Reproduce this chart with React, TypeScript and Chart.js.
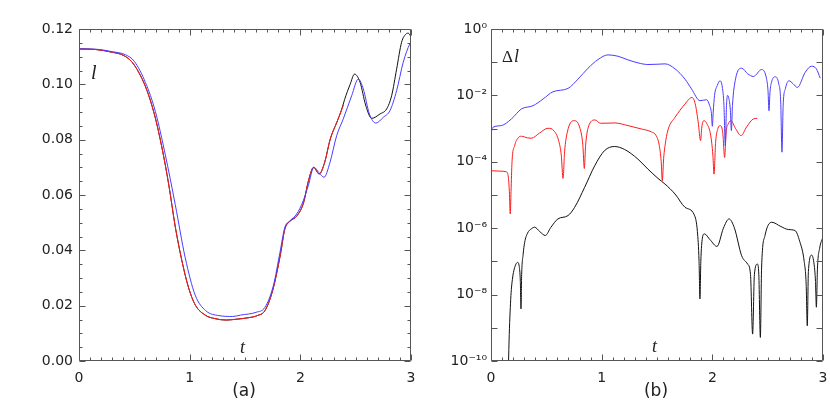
import { useEffect, useRef } from "react";
import { Chart, registerables } from "chart.js";

Chart.register(...registerables);

// ---------- Panel (a): l(t) ----------
const blackT_a = [0, 0.15, 0.3, 0.4, 0.48, 0.57, 0.63, 0.69, 0.75, 0.81, 0.87, 0.93, 0.99, 1.05, 1.14, 1.23, 1.33, 1.42, 1.54, 1.61, 1.68, 1.75, 1.82, 1.86, 1.9, 1.97, 2.03, 2.07, 2.12, 2.17, 2.22, 2.27, 2.33, 2.37, 2.4, 2.45, 2.49, 2.54, 2.59, 2.645, 2.72, 2.78, 2.825, 2.87, 2.915, 2.955, 2.975, 3.0];
const blackL_a = [0.1128, 0.1126, 0.1116, 0.1105, 0.108, 0.102, 0.096, 0.0878, 0.077, 0.064, 0.0485, 0.0362, 0.0265, 0.0203, 0.0166, 0.0153, 0.0148, 0.0151, 0.0157, 0.0164, 0.0182, 0.0255, 0.0385, 0.0477, 0.0503, 0.0525, 0.0573, 0.0646, 0.07, 0.0676, 0.0718, 0.0802, 0.0863, 0.0905, 0.0945, 0.1, 0.1037, 0.1007, 0.0925, 0.0877, 0.0893, 0.0911, 0.0959, 0.1055, 0.1152, 0.1182, 0.1185, 0.1172];

const redT_a = [0, 0.15, 0.3, 0.4, 0.48, 0.57, 0.63, 0.69, 0.75, 0.81, 0.87, 0.93, 0.99, 1.05, 1.14, 1.23, 1.33, 1.42, 1.54, 1.61, 1.68, 1.75, 1.82, 1.86, 1.9, 1.97, 2.03, 2.07, 2.12, 2.17, 2.22, 2.27, 2.33, 2.37, 2.39];
const redL_a = [0.1128, 0.1126, 0.1116, 0.1105, 0.108, 0.102, 0.096, 0.0878, 0.077, 0.064, 0.0485, 0.0362, 0.0265, 0.0203, 0.0166, 0.0153, 0.0148, 0.0151, 0.0157, 0.0164, 0.0182, 0.0255, 0.0385, 0.0477, 0.0503, 0.0525, 0.0573, 0.0646, 0.07, 0.0676, 0.0718, 0.0802, 0.0863, 0.0905, 0.0925];

const blueT_a = [0, 0.15, 0.3, 0.42, 0.5, 0.6, 0.69, 0.78, 0.87, 0.96, 1.05, 1.145, 1.265, 1.39, 1.46, 1.6, 1.68, 1.756, 1.816, 1.86, 1.906, 1.967, 2.027, 2.072, 2.123, 2.17, 2.214, 2.268, 2.328, 2.388, 2.464, 2.524, 2.569, 2.624, 2.683, 2.75, 2.81, 2.87, 2.93, 2.99, 3.0];
const blueL_a = [0.1128, 0.1127, 0.1118, 0.1107, 0.1083, 0.1007, 0.0902, 0.0745, 0.0565, 0.0373, 0.0238, 0.0182, 0.0164, 0.0161, 0.0166, 0.0176, 0.0194, 0.0272, 0.0393, 0.0483, 0.0507, 0.0531, 0.058, 0.0634, 0.07, 0.068, 0.0664, 0.0718, 0.0814, 0.0875, 0.0959, 0.1019, 0.0983, 0.0893, 0.086, 0.0881, 0.0905, 0.0977, 0.108, 0.1146, 0.115];

// ---------- Panel (b): Δl(t), stored as log10 values ----------
const blueT_b = [0, 0.003, 0.018, 0.093, 0.184, 0.274, 0.38, 0.47, 0.56, 0.696, 0.786, 0.877, 0.967, 1.057, 1.147, 1.238, 1.328, 1.418, 1.509, 1.572, 1.663, 1.753, 1.813, 1.888, 1.948, 1.975, 1.992, 2.0, 2.008, 2.02, 2.045, 2.069, 2.09, 2.105, 2.117, 2.128, 2.138, 2.15, 2.163, 2.172, 2.182, 2.21, 2.265, 2.32, 2.371, 2.446, 2.49, 2.503, 2.512, 2.521, 2.535, 2.566, 2.6, 2.618, 2.629, 2.64, 2.66, 2.693, 2.73, 2.768, 2.84, 2.897, 2.94, 2.975];
const blueLogDl_b = [-3.2, -3.11, -2.96, -2.91, -2.71, -2.41, -2.31, -2.11, -1.89, -1.79, -1.51, -1.18, -0.92, -0.78, -0.82, -0.93, -1.02, -1.07, -1.06, -1.05, -1.2, -1.51, -1.81, -2.16, -2.13, -2.3, -2.55, -2.93, -2.5, -2.0, -1.7, -1.56, -1.75, -2.3, -3.51, -2.3, -2.0, -2.1, -2.45, -3.06, -2.3, -1.5, -1.18, -1.35, -1.43, -1.22, -1.5, -1.85, -2.46, -1.9, -1.6, -1.44, -1.65, -2.2, -3.71, -2.3, -1.8, -1.56, -1.65, -1.76, -1.3, -1.12, -1.2, -1.48];

const redT_b = [0, 0.002, 0.004, 0.08, 0.138, 0.155, 0.166, 0.174, 0.181, 0.19, 0.214, 0.245, 0.274, 0.33, 0.364, 0.44, 0.515, 0.57, 0.61, 0.635, 0.651, 0.665, 0.69, 0.75, 0.8, 0.83, 0.843, 0.855, 0.88, 0.94, 0.99, 1.12, 1.238, 1.358, 1.45, 1.49, 1.52, 1.538, 1.548, 1.56, 1.58, 1.602, 1.663, 1.753, 1.815, 1.845, 1.872, 1.894, 1.905, 1.924, 1.95, 1.985, 2.005, 2.015, 2.03, 2.05, 2.072, 2.095, 2.111, 2.125, 2.145, 2.168, 2.21, 2.259, 2.31, 2.37, 2.406];
const redLogDl_b = [-5.82, -4.6, -4.27, -4.28, -4.3, -4.42, -4.9, -5.57, -4.9, -4.0, -3.51, -3.28, -3.23, -3.28, -3.29, -3.13, -2.99, -3.07, -3.35, -3.8, -4.5, -3.7, -3.1, -2.76, -2.95, -3.5, -4.2, -3.5, -2.95, -2.74, -2.84, -2.83, -2.91, -3.01, -3.1, -3.2, -3.5, -4.0, -4.57, -3.9, -3.35, -3.01, -2.66, -2.26, -2.06, -2.25, -2.8, -3.36, -2.95, -2.76, -2.85, -3.2, -3.8, -4.37, -3.4, -3.0, -2.91, -3.15, -3.87, -3.1, -2.85, -2.76, -3.0, -3.21, -2.95, -2.71, -2.69];

const blackT_b = [0.155, 0.165, 0.18, 0.195, 0.21, 0.24, 0.255, 0.265, 0.271, 0.277, 0.29, 0.304, 0.33, 0.364, 0.394, 0.44, 0.491, 0.54, 0.605, 0.696, 0.756, 0.846, 0.937, 1.027, 1.117, 1.208, 1.328, 1.418, 1.509, 1.572, 1.663, 1.753, 1.837, 1.865, 1.88, 1.888, 1.896, 1.91, 1.928, 1.98, 2.042, 2.1, 2.151, 2.2, 2.265, 2.319, 2.345, 2.364, 2.38, 2.407, 2.42, 2.434, 2.445, 2.476, 2.536, 2.62, 2.687, 2.747, 2.79, 2.83, 2.848, 2.858, 2.868, 2.898, 2.92, 2.932, 2.94, 2.95, 2.97, 3.0];
const blackLogDl_b = [-10.5, -9.2, -8.03, -7.5, -7.23, -7.03, -7.15, -7.6, -8.43, -7.4, -6.8, -6.43, -6.15, -6.02, -5.97, -6.1, -6.22, -5.98, -5.72, -5.62, -5.37, -4.77, -4.12, -3.66, -3.54, -3.63, -3.92, -4.22, -4.5, -4.67, -4.97, -5.37, -5.6, -6.1, -7.0, -8.13, -7.0, -6.3, -6.17, -6.35, -6.55, -6.0, -5.72, -6.0, -6.83, -7.08, -7.4, -9.19, -7.4, -7.08, -7.4, -9.29, -7.2, -6.22, -5.82, -5.95, -6.04, -6.07, -6.4, -7.0, -7.7, -8.94, -7.3, -6.81, -7.1, -7.6, -8.38, -7.2, -6.6, -6.26];

// ---------- tick labels ----------
const tTickValues = [0, 1, 2, 3];
const lTickValues = [0, 0.02, 0.04, 0.06, 0.08, 0.1, 0.12];
const dlTickExponents = [-10, -9, -8, -7, -6, -5, -4, -3, -2, -1, 0];

const BLACK = "#111111";
const RED = "#ff1a1a";
const BLUE = "#4a3cff";
const AXIS = "#555555";
const LABEL = "#222222";
const TICK_FONT = { family: "DejaVu Sans", size: 14 };

const SUP: Record<string, string> = { "0": "⁰", "1": "¹", "2": "²", "3": "³", "4": "⁴", "5": "⁵", "6": "⁶", "7": "⁷", "8": "⁸", "9": "⁹", "-": "⁻" };
const sup = (n: number) => String(n).split("").map((c) => SUP[c] ?? c).join("");

const pts = (xs: number[], ys: number[]) => xs.map((x, i) => ({ x, y: ys[i] }));
const ptsLog = (xs: number[], es: number[]) => xs.map((x, i) => ({ x, y: Math.pow(10, es[i]) }));

type TextItem = { text: string; x: number; y: number; font: string; align?: CanvasTextAlign };

function framePlugin(kind: "lin" | "log", texts: TextItem[]) {
  return {
    id: "frameTicks",
    afterDraw(chart: any) {
      const { ctx, chartArea: a, scales } = chart;
      const xs = scales.x;
      const ys = scales.y;
      ctx.save();
      ctx.strokeStyle = AXIS;
      ctx.lineWidth = 1;
      const L = Math.round(a.left) + 0.5;
      const R = Math.round(a.right) - 0.5;
      const T = Math.round(a.top) + 0.5;
      const B = Math.round(a.bottom) - 0.5;
      ctx.beginPath();
      ctx.rect(L, T, R - L, B - T);
      // x ticks (major at integers, minor every 0.1)
      for (let i = 0; i <= 30; i++) {
        const v = i / 10;
        const len = i % 10 === 0 ? 6 : 3;
        const px = Math.round(xs.getPixelForValue(v)) + 0.5;
        ctx.moveTo(px, B); ctx.lineTo(px, B - len);
        ctx.moveTo(px, T); ctx.lineTo(px, T + len);
      }
      if (kind === "lin") {
        for (let i = 0; i <= 24; i++) {
          const v = i * 0.005;
          const len = i % 4 === 0 ? 6 : 3;
          const py = Math.round(ys.getPixelForValue(v)) + 0.5;
          ctx.moveTo(L, py); ctx.lineTo(L + len, py);
          ctx.moveTo(R, py); ctx.lineTo(R - len, py);
        }
      } else {
        for (const e of dlTickExponents) {
          const py = Math.round(ys.getPixelForValue(Math.pow(10, e))) + 0.5;
          ctx.moveTo(L, py); ctx.lineTo(L + 6, py);
          ctx.moveTo(R, py); ctx.lineTo(R - 6, py);
        }
      }
      ctx.stroke();
      ctx.fillStyle = LABEL;
      ctx.textBaseline = "alphabetic";
      for (const t of texts) {
        ctx.font = t.font;
        ctx.textAlign = t.align ?? "left";
        ctx.fillText(t.text, t.x, t.y);
      }
      ctx.restore();
    },
  };
}

function lineDs(data: any[], color: string) {
  return {
    data,
    borderColor: color,
    borderWidth: 1,
    pointRadius: 0,
    fill: false,
    cubicInterpolationMode: "monotone" as const,
  };
}

function PanelA() {
  const ref = useRef<HTMLCanvasElement>(null);
  useEffect(() => {
    const chart = new Chart(ref.current!, {
      type: "line",
      data: {
        datasets: [
          lineDs(pts(blueT_a, blueL_a), BLUE),
          lineDs(pts(redT_a, redL_a), RED),
          lineDs(pts(blackT_a, blackL_a), BLACK),
        ],
      },
      options: {
        animation: false,
        responsive: false,
        devicePixelRatio: 1,
        layout: { padding: { left: 0, right: 9, top: 29, bottom: 0 } },
        plugins: { legend: { display: false }, tooltip: { enabled: false } },
        scales: {
          x: {
            type: "linear", min: 0, max: 3,
            grid: { display: false, drawTicks: false }, border: { display: false },
            afterBuildTicks: (s: any) => { s.ticks = tTickValues.map((v) => ({ value: v })); },
            afterFit: (s: any) => { s.height = 54; s.paddingLeft = 0; s.paddingRight = 0; },
            ticks: { autoSkip: false, maxRotation: 0, padding: 9, color: LABEL, font: TICK_FONT, callback: (v: any) => String(v) },
          },
          y: {
            type: "linear", min: 0, max: 0.12,
            grid: { display: false, drawTicks: false }, border: { display: false },
            afterBuildTicks: (s: any) => { s.ticks = lTickValues.map((v) => ({ value: v })); },
            afterFit: (s: any) => { s.width = 79; s.paddingTop = 0; s.paddingBottom = 0; },
            ticks: { autoSkip: false, padding: 6, color: LABEL, font: TICK_FONT, callback: (v: any) => Number(v).toFixed(2) },
          },
        },
      },
      plugins: [framePlugin("lin", [
        { text: "l", x: 91, y: 79, font: 'italic 20px "Liberation Serif"' },
        { text: "t", x: 240, y: 352.5, font: 'italic 18px "Liberation Serif"' },
        { text: "(a)", x: 244, y: 396, font: '17px "DejaVu Sans"', align: "center" },
      ])],
    } as any);
    return () => chart.destroy();
  }, []);
  return <canvas ref={ref} width={420} height={415} style={{ position: "absolute", left: 0, top: 0 }} />;
}

function PanelB() {
  const ref = useRef<HTMLCanvasElement>(null);
  useEffect(() => {
    const chart = new Chart(ref.current!, {
      type: "line",
      data: {
        datasets: [
          lineDs(ptsLog(blueT_b, blueLogDl_b), BLUE),
          lineDs(ptsLog(redT_b, redLogDl_b), RED),
          lineDs(ptsLog(blackT_b, blackLogDl_b), BLACK),
        ],
      },
      options: {
        animation: false,
        responsive: false,
        devicePixelRatio: 1,
        layout: { padding: { left: 0, right: 7, top: 29, bottom: 0 } },
        plugins: { legend: { display: false }, tooltip: { enabled: false } },
        scales: {
          x: {
            type: "linear", min: 0, max: 3,
            grid: { display: false, drawTicks: false }, border: { display: false },
            afterBuildTicks: (s: any) => { s.ticks = tTickValues.map((v) => ({ value: v })); },
            afterFit: (s: any) => { s.height = 54; s.paddingLeft = 0; s.paddingRight = 0; },
            ticks: { autoSkip: false, maxRotation: 0, padding: 9, color: LABEL, font: TICK_FONT, callback: (v: any) => String(v) },
          },
          y: {
            type: "logarithmic", min: 1e-10, max: 1,
            grid: { display: false, drawTicks: false }, border: { display: false },
            afterBuildTicks: (s: any) => { s.ticks = dlTickExponents.map((e) => ({ value: Math.pow(10, e) })); },
            afterFit: (s: any) => { s.width = 71; s.paddingTop = 0; s.paddingBottom = 0; },
            ticks: {
              autoSkip: false, padding: 4, color: LABEL, font: TICK_FONT,
              callback: (v: any) => {
                const e = Math.round(Math.log10(Number(v)));
                return e % 2 === 0 ? "10" + sup(e) : "";
              },
            },
          },
        },
      },
      plugins: [framePlugin("log", [
        { text: "Δ", x: 82, y: 61.5, font: '17px "Liberation Serif"' },
        { text: "l", x: 94, y: 61.5, font: 'italic 18px "Liberation Serif"' },
        { text: "t", x: 232, y: 351.5, font: 'italic 18px "Liberation Serif"' },
        { text: "(b)", x: 236, y: 396, font: '17px "DejaVu Sans"', align: "center" },
      ])],
    } as any);
    return () => chart.destroy();
  }, []);
  return <canvas ref={ref} width={410} height={415} style={{ position: "absolute", left: 420, top: 0 }} />;
}

export default function App() {
  return (
    <div style={{ position: "absolute", left: 0, top: 0, width: 830, height: 415, background: "#ffffff" }}>
      <PanelA />
      <PanelB />
    </div>
  );
}
